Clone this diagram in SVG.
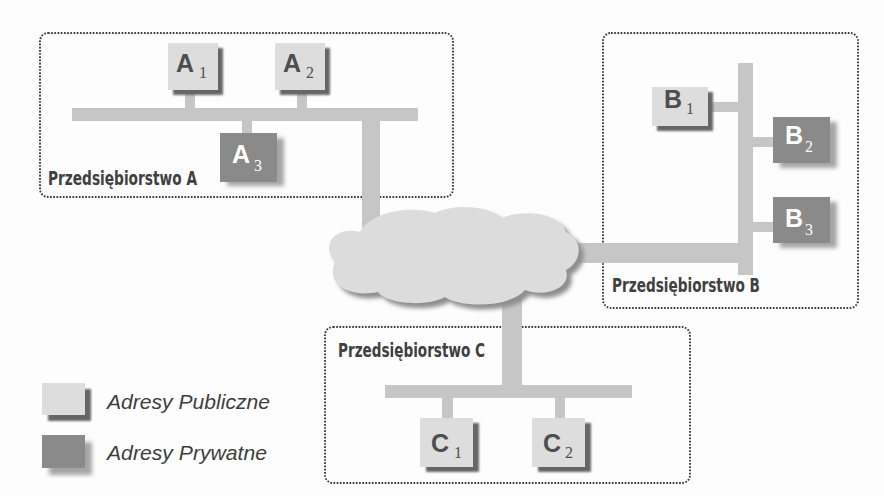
<svg xmlns="http://www.w3.org/2000/svg" width="884" height="496" viewBox="0 0 884 496">
  <defs>
    <filter id="soft" x="-20%" y="-20%" width="140%" height="140%">
      <feGaussianBlur stdDeviation="1.3"/>
    </filter>
    <filter id="softer" x="-20%" y="-20%" width="140%" height="140%">
      <feGaussianBlur stdDeviation="2.2"/>
    </filter>
    <path id="cloudShape" d="M335,262 C320,245 335,226 360,232 C370,212 410,205 435,213 C455,203 490,206 502,218 C522,209 560,212 566,232 C584,240 582,262 566,270 C572,288 545,298 525,290 C510,308 460,308 445,297 C425,308 385,303 378,292 C350,298 325,285 335,262 Z"/>
  </defs>
  <style>
    .box { fill: none; stroke: #3c3c3c; stroke-width: 1.9; stroke-dasharray: 1.7 1.5; }
    .bus { fill: #c6c6c6; }
    .pubShadow { fill: #666666; filter: url(#soft); }
    .pub { fill: #dddddd; }
    .privShadow { fill: #a5a5a5; filter: url(#softer); }
    .priv { fill: #8a8a8a; }
    .lbl { font-family: "Liberation Sans", Arial, sans-serif; font-weight: bold; font-size: 25px; }
    .sub { font-family: "Liberation Serif", "Times New Roman", serif; font-size: 16px; }
    .dark { fill: #4e4e4e; }
    .light { fill: #ffffff; }
    .org { font-family: "DejaVu Sans Condensed", "Liberation Sans Narrow", "DejaVu Sans", sans-serif; font-weight: bold; font-size: 19px; fill: #404040; }
    .legend { font-family: "Liberation Sans", Arial, sans-serif; font-style: italic; font-size: 21px; fill: #3e3e3e; }
  </style>

  <rect width="884" height="496" fill="#fdfdfd"/>

  <!-- enterprise areas -->
  <g id="enterprise-a">
    <rect class="box" x="40" y="33" width="413" height="164" rx="8"/>
    <text class="org" x="48" y="185" textLength="149" lengthAdjust="spacingAndGlyphs">Przedsiębiorstwo A</text>
  </g>
  <g id="enterprise-b">
    <rect class="box" x="603" y="33" width="255" height="275" rx="8"/>
    <text class="org" x="612" y="292" textLength="148" lengthAdjust="spacingAndGlyphs">Przedsiębiorstwo B</text>
  </g>
  <g id="enterprise-c">
    <rect class="box" x="325" y="327" width="365" height="156" rx="8"/>
    <text class="org" x="338" y="357" textLength="147" lengthAdjust="spacingAndGlyphs">Przedsiębiorstwo C</text>
  </g>

  <!-- network links and buses -->
  <g id="connectors">
    <rect class="bus" x="72" y="108" width="346" height="13"/>
    <rect class="bus" x="185" y="90" width="10" height="19"/>
    <rect class="bus" x="297" y="90" width="10" height="19"/>
    <rect class="bus" x="242" y="120" width="10" height="14"/>
    <rect class="bus" x="362" y="120" width="18" height="108"/>
    <rect class="bus" x="738" y="63" width="15" height="212"/>
    <rect class="bus" x="708" y="102" width="31" height="10"/>
    <rect class="bus" x="752" y="137" width="22" height="10"/>
    <rect class="bus" x="752" y="222" width="22" height="10"/>
    <rect class="bus" x="560" y="243" width="179" height="20"/>
    <rect class="bus" x="502" y="288" width="20" height="100"/>
    <rect class="bus" x="385" y="385" width="247" height="13"/>
    <rect class="bus" x="442" y="397" width="11" height="22"/>
    <rect class="bus" x="555" y="397" width="10" height="22"/>
  </g>

  <!-- internet cloud -->
  <g id="internet">
    <use href="#cloudShape" transform="translate(5,5)" fill="#8e8e8e" filter="url(#softer)"/>
    <use href="#cloudShape" fill="#dcdcdc"/>
  </g>

  <!-- hosts of enterprise A -->
  <g id="a1">
    <rect class="pubShadow" x="173" y="48" width="50" height="47"/>
    <rect class="pub" x="168" y="43" width="50" height="47"/>
    <text class="lbl dark" x="176" y="72">A</text>
    <text class="sub dark" x="199" y="78">1</text>
  </g>
  <g id="a2">
    <rect class="pubShadow" x="280" y="48" width="50" height="47"/>
    <rect class="pub" x="275" y="43" width="50" height="47"/>
    <text class="lbl dark" x="283" y="72">A</text>
    <text class="sub dark" x="306" y="78">2</text>
  </g>
  <g id="a3">
    <rect class="privShadow" x="227" y="138" width="57" height="48"/>
    <rect class="priv" x="220" y="133" width="57" height="49"/>
    <text class="lbl light" x="232" y="163">A</text>
    <text class="sub light" x="254" y="171">3</text>
  </g>

  <!-- hosts of enterprise B -->
  <g id="b1">
    <rect class="pubShadow" x="657" y="92" width="56" height="39"/>
    <rect class="pub" x="652" y="87" width="56" height="39"/>
    <text class="lbl dark" x="664" y="108">B</text>
    <text class="sub dark" x="686" y="114">1</text>
  </g>
  <g id="b2">
    <rect class="privShadow" x="780" y="122" width="57" height="46"/>
    <rect class="priv" x="773" y="117" width="57" height="46"/>
    <text class="lbl light" x="785" y="144">B</text>
    <text class="sub light" x="805" y="152">2</text>
  </g>
  <g id="b3">
    <rect class="privShadow" x="780" y="202" width="57" height="46"/>
    <rect class="priv" x="773" y="197" width="57" height="46"/>
    <text class="lbl light" x="785" y="227">B</text>
    <text class="sub light" x="805" y="235">3</text>
  </g>

  <!-- hosts of enterprise C -->
  <g id="c1">
    <rect class="pubShadow" x="426" y="423" width="53" height="49"/>
    <rect class="pub" x="420" y="418" width="53" height="49"/>
    <text class="lbl dark" x="431" y="452">C</text>
    <text class="sub dark" x="454" y="458">1</text>
  </g>
  <g id="c2">
    <rect class="pubShadow" x="538" y="423" width="53" height="49"/>
    <rect class="pub" x="532" y="418" width="53" height="49"/>
    <text class="lbl dark" x="543" y="452">C</text>
    <text class="sub dark" x="565" y="458">2</text>
  </g>

  <!-- key -->
  <g id="legend">
    <rect class="pubShadow" x="48" y="389" width="43" height="32"/>
    <rect class="pub" x="42" y="383" width="43" height="32"/>
    <text class="legend" x="107" y="409" textLength="163" lengthAdjust="spacingAndGlyphs">Adresy Publiczne</text>
    <rect class="privShadow" x="49" y="442" width="43" height="33"/>
    <rect class="priv" x="42" y="435" width="43" height="33"/>
    <text class="legend" x="107" y="460" textLength="160" lengthAdjust="spacingAndGlyphs">Adresy Prywatne</text>
  </g>
</svg>
